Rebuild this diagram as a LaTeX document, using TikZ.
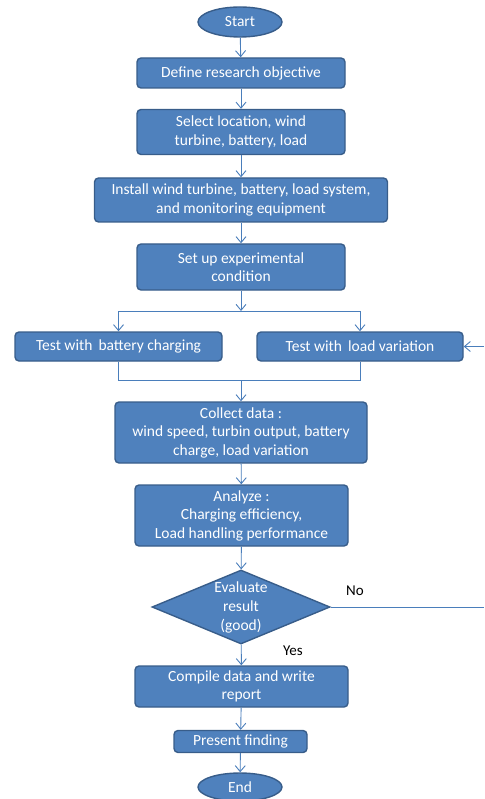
\documentclass[tikz,border=0pt]{standalone}
\usepackage{fontspec}
\setmainfont{Carlito}
\usetikzlibrary{shapes.geometric,arrows.meta}
\definecolor{boxfill}{HTML}{4F81BD}
\definecolor{boxline}{HTML}{385D8A}
\definecolor{conn}{HTML}{4A7EBB}
\tikzset{
  box/.style={draw=boxline, line width=1.4pt, fill=boxfill, rounded corners=4pt, text=white, align=center, inner sep=0pt, font=\fontsize{15.5}{18.5}\selectfont},
  term/.style={ellipse, draw=boxline, line width=1.4pt, fill=boxfill, text=white, inner sep=0pt, minimum width=84pt, minimum height=30pt, font=\fontsize{15.5}{18.5}\selectfont},
  dec/.style={diamond, draw=boxline, line width=1.4pt, fill=boxfill, inner sep=0pt, minimum width=178pt, minimum height=74pt},
  lbl/.style={text=white, align=center, font=\fontsize{15.5}{19}\selectfont},
  plain/.style={text=black, font=\fontsize{15}{18.5}\selectfont},
  conn/.style={draw=conn, line width=0.9pt},
  arr/.style={conn, -{Straight Barb[length=6pt, width=10pt]}}
}
\begin{document}
\begin{tikzpicture}[x=1pt, y=-1pt]
\useasboundingbox (0,0) rectangle (484,799);
\node[term] (start) at (240,22) {Start};
\node[box, minimum width=208pt, minimum height=30pt] (define) at (241,73) {Define research objective};
\node[box, minimum width=208pt, minimum height=45pt] (select) at (241,132) {Select location, wind\\turbine, battery, load};
\node[box, minimum width=293pt, minimum height=44pt] (install) at (241,200) {Install wind turbine, battery, load system,\\and monitoring equipment};
\node[box, minimum width=208pt, minimum height=46pt] (setup) at (241,267) {Set up experimental\\condition};
\node[box, minimum width=207pt, minimum height=29pt] (battery) at (118.5,346.5) {Test with\, battery charging};
\node[box, minimum width=206pt, minimum height=29pt] (load) at (360,346.5) {Test with\, load variation};
\node[box, minimum width=252pt, minimum height=61pt] (collect) at (241,432.5) {Collect data :\\wind speed, turbin output, battery\\charge, load variation};
\node[box, minimum width=213pt, minimum height=61pt] (analyze) at (241.5,515.5) {Analyze :\\Charging efficiency,\\Load handling performance};
\node[dec] (eval) at (241,607) {};
\node[lbl] (evaltext) at (241,607) {Evaluate\\result\\(good)};
\node[box, minimum width=213pt, minimum height=41pt] (compile) at (241.5,686.5) {Compile data and write\\report};
\node[box, minimum width=133pt, minimum height=22pt] (present) at (240.5,741.5) {Present finding};
\node[term, minimum height=28pt] (end) at (240,787) {End};
\node[plain] (no) at (355,591) {No};
\node[plain] (yes) at (293,651) {Yes};
% coordinates
\coordinate (split) at (241,311);
\coordinate (splitL) at (118.5,311);
\coordinate (splitR) at (360,311);
\coordinate (joinL) at (118.5,380);
\coordinate (joinR) at (360,380);
\coordinate (join) at (241,380);
\coordinate (rightin) at (484,346.5);
\coordinate (rightout) at (484,607);
% connectors
\draw[arr] (start) -- (define);
\draw[arr] (define) -- (select);
\draw[arr] (select) -- (install);
\draw[arr] (install) -- (setup);
\draw[arr] (setup) -- (split);
\draw[conn] (splitL) -- (splitR);
\draw[arr] (splitL) -- (battery);
\draw[arr] (splitR) -- (load);
\draw[conn] (battery) -- (joinL) -- (joinR) -- (load);
\draw[arr] (join) -- (collect);
\draw[arr] (collect) -- (analyze);
\draw[arr] (analyze) -- (eval);
\draw[arr] (eval) -- (compile);
\draw[arr] (compile) -- (present);
\draw[arr] (present) -- (end);
\draw[conn] (eval.east) -- (rightout);
\draw[arr] (rightin) -- (load);
\end{tikzpicture}
\end{document}
